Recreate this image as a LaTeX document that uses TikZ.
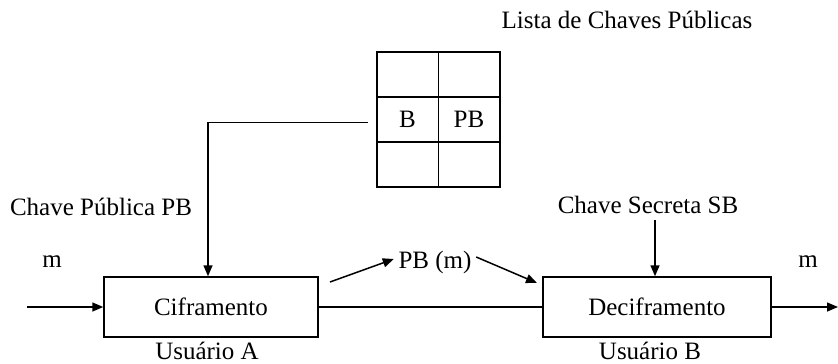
\documentclass[tikz,border=0pt]{standalone}
\usepackage{fontspec}
\setmainfont{Liberation Serif}
\usetikzlibrary{arrows.meta}
\begin{document}
\begin{tikzpicture}[x=1pt,y=-1pt,line width=1.5pt,
  >={Triangle[length=11pt,width=9pt]},
  every node/.style={font=\fontsize{25}{30}\selectfont,inner sep=0pt},
  blockbox/.style={draw,minimum height=60pt},
  cell/.style={draw,minimum width=61.5pt,minimum height=45pt}]
\useasboundingbox (0,0) rectangle (838,364);

% processing blocks
\node[blockbox,minimum width=214pt] (cif) at (211,307) {Ciframento};
\node[blockbox,minimum width=228pt] (dec) at (657,307) {Deciframento};
\node[anchor=base] (ua) at (207,359) {Usuário A};
\node[anchor=base] (ub) at (650,359) {Usuário B};

% public key table
\node[cell] (t11) at (407.5,74.5) {};
\node[cell] (t12) at (469,74.5) {};
\node[cell] (t21) at (407.5,119.5) {B};
\node[cell] (t22) at (469,119.5) {PB};
\node[cell] (t31) at (407.5,164.5) {};
\node[cell] (t32) at (469,164.5) {};
\node (lista) at (627,20) {Lista de Chaves Públicas};

% labels
\node (cpub) at (101,207) {Chave Pública PB};
\node (csec) at (648,205) {Chave Secreta SB};
\node (min) at (52,262) {m};
\node (mout) at (808,262) {m};
\node (pbm) at (435,262) {PB (m)};

% free ends
\coordinate (inA) at (27,307);
\coordinate (outB) at (838,307);
\coordinate (secTop) at (655,220);
\coordinate (pbA) at (330,282);
\coordinate (pbB) at (537,283);

% connectors
\draw[->] (inA) -- (cif.west);
\draw (cif.east) -- (dec.west);
\draw[->] (dec.east) -- (outB);
\draw[->] ([xshift=-8pt,yshift=-3pt]t21.west) -| ([xshift=-3pt]cif.north);
\draw[->] (secTop) -- (secTop |- dec.north);
\draw[->] (pbA) -- ([xshift=-4pt,yshift=3pt]pbm.west);
\draw[->] ([xshift=4pt,yshift=5pt]pbm.east) -- (pbB);
\end{tikzpicture}
\end{document}
